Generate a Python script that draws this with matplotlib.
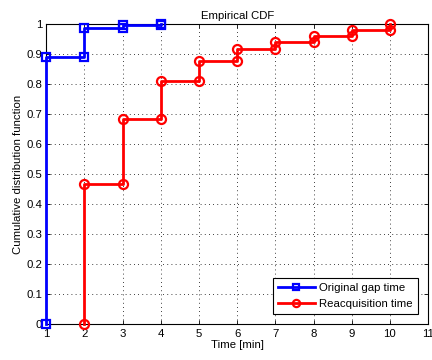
import matplotlib.pyplot as plt

# Empirical CDF stair vertices (x [min], F)
gap_x = [1, 1, 2, 2, 3, 3, 4, 4]
gap_f = [0, 0.889, 0.889, 0.988, 0.988, 0.996, 0.996, 1.0]

reacq_x = [2, 2, 3, 3, 4, 4, 5, 5, 6, 6, 7, 7, 8, 8, 9, 9, 10, 10]
reacq_f = [0, 0.466, 0.466, 0.684, 0.684, 0.809, 0.809, 0.877, 0.877,
           0.917, 0.917, 0.939, 0.939, 0.960, 0.960, 0.981, 0.981, 1.0]

xticks = list(range(1, 12))
yticks = [i / 10 for i in range(11)]
yticklabels = ["0"] + ["%.1f" % v for v in yticks[1:-1]] + ["1"]

plt.rcParams['font.family'] = ['Liberation Sans', 'DejaVu Sans']
plt.rcParams['font.size'] = 8.2

fig = plt.figure(figsize=(4.32, 3.6), dpi=100)
ax = fig.add_axes([0.107, 0.099, 0.884, 0.834])

ax.plot(gap_x, gap_f, color=(0, 0, 1), lw=2, marker='s', ms=5.5,
        mfc='none', mew=1.6, label='Original gap time', zorder=3, clip_on=False)
ax.plot(reacq_x, reacq_f, color=(1, 0, 0), lw=2, marker='o', ms=6.5,
        mfc='none', mew=1.6, label='Reacquisition time', zorder=3, clip_on=False)

ax.set_xlim(1, 11)
ax.set_ylim(0, 1)
ax.set_xticks(xticks)
ax.set_yticks(yticks)
ax.set_yticklabels(yticklabels)
ax.tick_params(direction='in', top=True, right=True, length=3, width=0.6, pad=3)
ax.grid(True, linestyle=(0, (1, 4)), color='black', linewidth=0.6)
for s in ax.spines.values():
    s.set_linewidth(0.8)

ax.set_title("Empirical CDF", fontsize=8.2, pad=4)
ax.set_xlabel("Time [min]", labelpad=1)
ax.set_ylabel("Cumulative distribution function", labelpad=2)

leg = ax.legend(loc='lower right', fancybox=False, edgecolor='black',
                framealpha=1, borderpad=0.45, handlelength=3.2,
                borderaxespad=0.9, labelspacing=0.5, handletextpad=0.4,
                markerscale=0.8)
leg.get_frame().set_linewidth(0.8)

fig.savefig("out.png", dpi=100)
